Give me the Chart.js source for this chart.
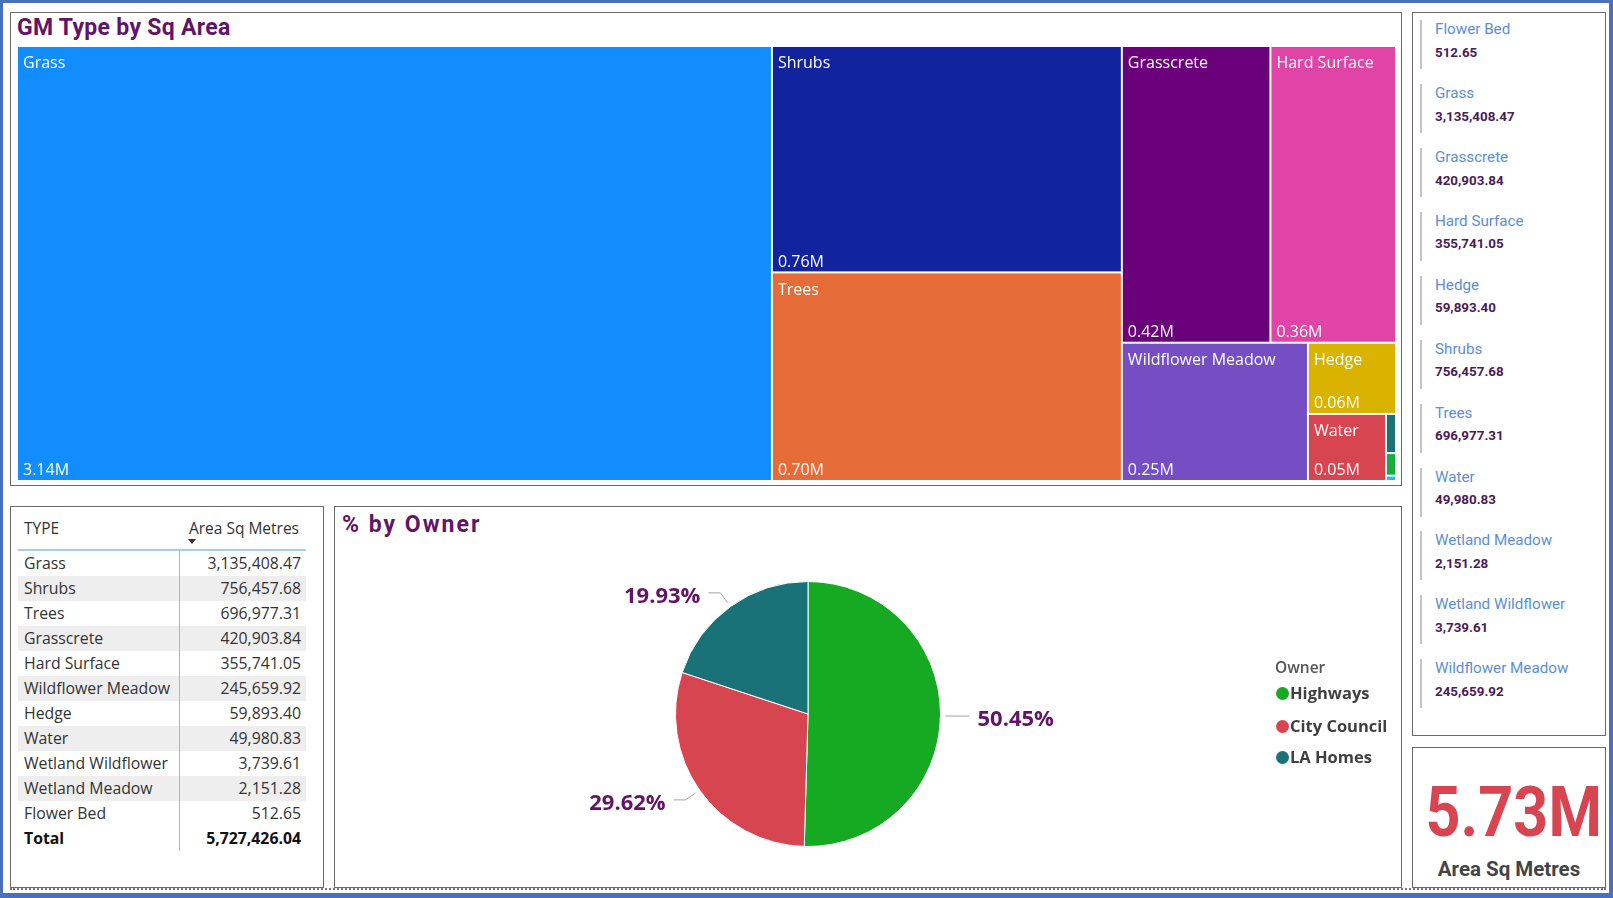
<!DOCTYPE html>
<html>
<head>
<meta charset="utf-8">
<title>GM Type by Sq Area</title>
<script src="https://cdn.jsdelivr.net/npm/chart.js@4.4.0/dist/chart.umd.min.js"></script>
<style>
  html, body { margin: 0; padding: 0; background: #fff; }
  body { position: relative; width: 1613px; height: 898px; overflow: hidden; }
  .abs { position: absolute; }
  #frame { left: 0; top: 0; width: 1613px; height: 898px; box-sizing: border-box;
           border-style: solid; border-color: #4a6fbe; border-width: 3px 4px 5px 3px; }
  .panel { box-sizing: border-box; border: 1px solid #6a6a6a; background: #fff; }
  .title { font-family: Roboto, sans-serif; font-weight: 700; font-size: 23px; color: #631466;
           line-height: 30px; white-space: nowrap; }
  .seg { font-family: "Open Sans", sans-serif; }
  .row { position: absolute; left: 18px; width: 288px; height: 25px; line-height: 25px;
         font-family: "Open Sans", sans-serif; font-size: 15.8px; color: #333; }
  .row .n { position: absolute; left: 6px; }
  .row .v { position: absolute; right: 5px; }
  .card-lbl { font-family: Roboto, sans-serif; font-size: 15.2px; color: #5a8fd8; line-height: 20px; white-space: nowrap; }
  .card-val { font-family: Roboto, sans-serif; font-weight: 700; font-size: 13.4px; color: #4b1c55; line-height: 18px; white-space: nowrap; }
  .leg { font-family: "Open Sans", sans-serif; font-weight: 700; font-size: 16.5px; color: #404040;
         line-height: 24px; white-space: nowrap; }
</style>
</head>
<body>
<div id="frame" class="abs"></div>

<!-- treemap panel -->
<div class="abs panel" style="left:10px; top:12px; width:1392px; height:474px;"></div>
<div class="abs title" style="left:17px; top:13px; letter-spacing:0.3px;">GM Type by Sq Area</div>
<canvas id="treemap" class="abs" width="1379" height="435" style="left:17px; top:46px;"></canvas>

<!-- table panel -->
<div class="abs panel" style="left:10px; top:506px; width:314px; height:382px;"></div>
<div id="table" class="abs" style="left:0; top:0;"></div>

<!-- pie panel -->
<div class="abs panel" style="left:334px; top:506px; width:1068px; height:382px;"></div>
<div class="abs title" style="left:342px; top:510px; letter-spacing:2px;">% by Owner</div>
<canvas id="pie" class="abs" width="1065" height="379" style="left:335px; top:507px;"></canvas>
<div id="legend" class="abs" style="left:0; top:0;"></div>

<!-- cards -->
<div class="abs panel" style="left:1412px; top:12px; width:194px; height:724px;"></div>
<div id="cards" class="abs" style="left:0; top:0;"></div>
<div class="abs panel" style="left:1412px; top:747px; width:194px; height:141px;"></div>
<div id="kpi" class="abs" style="left:1412px; top:772px; width:194px; text-align:center; font-family:Roboto, sans-serif;
     font-weight:700; font-size:71px; line-height:80px; color:#d64550; transform:scaleX(0.86);"></div>
<div class="abs" style="left:1412px; top:856px; width:194px; text-align:center; font-family:Roboto, sans-serif;
     font-weight:700; font-size:20.5px; line-height:26px; color:#444;">Area Sq Metres</div>

<div class="abs" style="left:10px; top:888px; width:1596px; height:0; border-top:2px dotted #777;"></div>

<script>
// ---- data ----
const types = ['Grass', 'Shrubs', 'Trees', 'Grasscrete', 'Hard Surface', 'Wildflower Meadow',
               'Hedge', 'Water', 'Wetland Wildflower', 'Wetland Meadow', 'Flower Bed'];
const areas = [3135408.47, 756457.68, 696977.31, 420903.84, 355741.05, 245659.92,
               59893.40, 49980.83, 3739.61, 2151.28, 512.65];
const typeColors = ['#118dff', '#12239e', '#e66c37', '#6b007b', '#e044a7', '#744ec2',
                    '#d9b300', '#d64550', '#197278', '#1aab40', '#15c6f4'];
const totalLabel = 'Total';

const owners = ['Highways', 'City Council', 'LA Homes'];
const ownerShare = [50.45, 29.62, 19.93];
const ownerColors = ['#16aa22', '#d64550', '#197278'];

const fmt = v => v.toLocaleString('en-US', { minimumFractionDigits: 2, maximumFractionDigits: 2 });
const total = areas.reduce((a, b) => a + b, 0);

// ---- squarified layout (golden ratio, like d3) ----
function squarify(values, x0, y0, x1, y1) {
  const ratio = (1 + Math.sqrt(5)) / 2;
  const out = [];
  let value = values.reduce((a, b) => a + b, 0);
  let i0 = 0, i1 = 0;
  const n = values.length;
  while (i0 < n) {
    const dx = x1 - x0, dy = y1 - y0;
    let sum = values[i1++];
    let minV = sum, maxV = sum;
    const alpha = Math.max(dy / dx, dx / dy) / (value * ratio);
    let beta = sum * sum * alpha;
    let minRatio = Math.max(maxV / beta, beta / minV);
    for (; i1 < n; ++i1) {
      const nv = values[i1];
      sum += nv;
      if (nv < minV) minV = nv;
      if (nv > maxV) maxV = nv;
      beta = sum * sum * alpha;
      const r = Math.max(maxV / beta, beta / minV);
      if (r > minRatio) { sum -= nv; break; }
      minRatio = r;
    }
    if (dx < dy) {
      const yb = y0 + dy * sum / value;
      let x = x0;
      for (let i = i0; i < i1; i++) { const w = dx * values[i] / sum; out[i] = [x, y0, x + w, yb]; x += w; }
      y0 = yb;
    } else {
      const xb = x0 + dx * sum / value;
      let y = y0;
      for (let i = i0; i < i1; i++) { const h = dy * values[i] / sum; out[i] = [x0, y, xb, y + h]; y += h; }
      x0 = xb;
    }
    value -= sum;
    i0 = i1;
  }
  return out;
}

// draws the tiles through the (hidden) unit scales
const treemapPlugin = {
  id: 'treemapTiles',
  afterDatasetsDraw(chart) {
    const { ctx, chartArea: a, scales: { x, y } } = chart;
    const W = a.right - a.left, H = a.bottom - a.top;
    const cells = squarify(areas, 0, 0, W, H);
    ctx.save();
    cells.forEach((c, i) => {
      const l = x.getPixelForValue(c[0] / W), r = x.getPixelForValue(c[2] / W);
      const t = y.getPixelForValue(c[1] / H), b = y.getPixelForValue(c[3] / H);
      ctx.fillStyle = typeColors[i];
      ctx.fillRect(l + 1, t + 1, r - l - 2, b - t - 2);
      if (r - l > 30 && b - t > 30) {
        ctx.fillStyle = '#fff';
        ctx.font = '16px "Open Sans"';
        ctx.textBaseline = 'alphabetic';
        ctx.fillText(types[i], l + 6, t + 16.5 + 5.7);
        ctx.fillText((areas[i] / 1e6).toFixed(2) + 'M', l + 6, b - 11.3 + 5.7);
      }
    });
    ctx.restore();
  }
};

new Chart(document.getElementById('treemap'), {
  type: 'scatter',
  data: { datasets: [{ data: [] }] },
  options: {
    responsive: false,
    animation: false,
    layout: { padding: 0 },
    plugins: { legend: { display: false }, tooltip: { enabled: false } },
    scales: {
      x: { type: 'linear', min: 0, max: 1, display: false },
      y: { type: 'linear', min: 0, max: 1, reverse: true, display: false }
    }
  },
  plugins: [treemapPlugin]
});

// outside labels with leader lines
const pieLabelPlugin = {
  id: 'pieLabels',
  afterDatasetsDraw(chart) {
    const ctx = chart.ctx;
    const meta = chart.getDatasetMeta(0);
    ctx.save();
    meta.data.forEach((arc, i) => {
      const p = arc.getProps(['x', 'y', 'startAngle', 'endAngle', 'outerRadius'], true);
      const mid = (p.startAngle + p.endAngle) / 2;
      const cos = Math.cos(mid), sin = Math.sin(mid);
      const sx = p.x + cos * (p.outerRadius + 5), sy = p.y + sin * (p.outerRadius + 5);
      const ex = p.x + cos * (p.outerRadius + 17), ey = p.y + sin * (p.outerRadius + 17);
      const dir = cos >= 0 ? 1 : -1;
      const hx = ex + dir * 12;
      ctx.strokeStyle = '#a8a0a8';
      ctx.lineWidth = 1;
      ctx.beginPath();
      ctx.moveTo(sx, sy);
      ctx.lineTo(ex, ey);
      ctx.lineTo(hx, ey);
      ctx.stroke();
      ctx.fillStyle = '#631466';
      ctx.font = 'bold 22px "Open Sans"';
      ctx.textAlign = dir > 0 ? 'left' : 'right';
      ctx.textBaseline = 'alphabetic';
      ctx.fillText(ownerShare[i].toFixed(2) + '%', hx + dir * 8, ey + 2 + 7.9);
    });
    ctx.restore();
  }
};

new Chart(document.getElementById('pie'), {
  type: 'pie',
  data: {
    labels: owners,
    datasets: [{ data: ownerShare, backgroundColor: ownerColors, borderColor: '#fff', borderWidth: 1 }]
  },
  options: {
    responsive: false,
    animation: false,
    layout: { padding: { left: 340, right: 459, top: 74, bottom: 39 } },
    plugins: { legend: { display: false }, tooltip: { enabled: false } }
  },
  plugins: [pieLabelPlugin]
});

// ---- legend ----
const legend = document.getElementById('legend');
let lh = '<div class="abs seg" style="left:1275px; top:655px; font-size:15.5px; font-weight:600; color:#555; line-height:24px;">Owner</div>';
const legY = [693, 726, 757];
owners.forEach((o, i) => {
  lh += `<div class="abs" style="left:${1282 - 6.5}px; top:${legY[i] - 6.5}px; width:13px; height:13px; border-radius:50%; background:${ownerColors[i]};"></div>`;
  lh += `<div class="abs leg" style="left:1290px; top:${legY[i] - 12}px;">${o}</div>`;
});
legend.innerHTML = lh;

// ---- table ----
const table = document.getElementById('table');
let th = '';
th += '<div class="abs seg" style="left:24px; top:516px; font-size:15.5px; color:#333; line-height:24px;">TYPE</div>';
th += '<div class="abs seg" style="left:150px; width:149px; text-align:right; top:516px; font-size:15.5px; color:#333; line-height:24px;">Area Sq Metres</div>';
th += '<div class="abs" style="left:188px; top:539px; width:0; height:0; border-left:4px solid transparent; border-right:4px solid transparent; border-top:5px solid #333;"></div>';
th += '<div class="abs" style="left:18px; top:549px; width:288px; height:2px; background:#a9cdef;"></div>';
types.forEach((t, i) => {
  const bg = i % 2 === 1 ? 'background:#eeeeee;' : '';
  th += `<div class="row" style="top:${551 + 25 * i}px; ${bg}"><span class="n">${t}</span><span class="v">${fmt(areas[i])}</span></div>`;
});
th += `<div class="row" style="top:${551 + 25 * types.length}px; font-weight:700; color:#111;"><span class="n">${totalLabel}</span><span class="v">${fmt(total)}</span></div>`;
th += '<div class="abs" style="left:179px; top:551px; width:1px; height:300px; background:#8fbbe8;"></div>';
table.innerHTML = th;

// ---- multi-row card (alphabetical) ----
const order = types.map((t, i) => i).sort((a, b) => types[a].localeCompare(types[b]));
const cards = document.getElementById('cards');
let ch = '';
order.forEach((idx, k) => {
  const c = 29 + 63.93 * k;
  ch += `<div class="abs" style="left:1420px; top:${c - 9}px; width:2px; height:49px; background:#c4c4c4;"></div>`;
  ch += `<div class="abs card-lbl" style="left:1435px; top:${c - 10}px;">${types[idx]}</div>`;
  ch += `<div class="abs card-val" style="left:1435px; top:${c + 23.7 - 9}px;">${fmt(areas[idx])}</div>`;
});
cards.innerHTML = ch;

document.getElementById('kpi').textContent = (total / 1e6).toFixed(2) + 'M';
</script>
</body>
</html>
